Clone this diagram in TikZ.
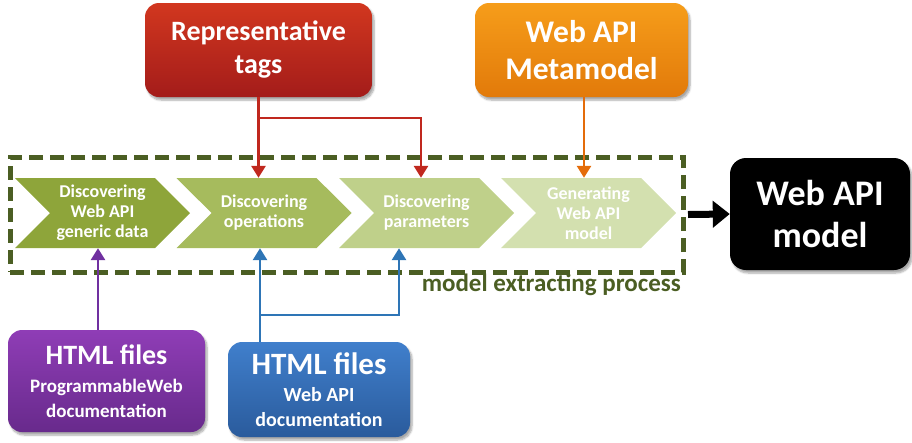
\documentclass[tikz,border=0pt]{standalone}
\usepackage{fontspec}
\setmainfont{Carlito}
\usetikzlibrary{shapes.symbols,arrows.meta,shadows.blur,calc}

\definecolor{olive}{HTML}{4B5E23}
\definecolor{chA}{HTML}{8EA53A}
\definecolor{chB}{HTML}{A6BB5D}
\definecolor{chC}{HTML}{BFD08A}
\definecolor{chD}{HTML}{D3E0AF}
\definecolor{redT}{HTML}{D2371F}
\definecolor{redB}{HTML}{A31C1A}
\definecolor{oraT}{HTML}{F69D1A}
\definecolor{oraB}{HTML}{E27A0A}
\definecolor{purT}{HTML}{8F3DB6}
\definecolor{purB}{HTML}{682A8C}
\definecolor{bluT}{HTML}{407FCC}
\definecolor{bluB}{HTML}{2A5B9C}
\definecolor{redL}{HTML}{C0281E}
\definecolor{oraL}{HTML}{E46C0A}
\definecolor{purL}{HTML}{7030A0}
\definecolor{bluL}{HTML}{2E75B6}

\tikzset{
  srcbox/.style={rounded corners=14pt, text=white, align=center, inner sep=0pt,
    blur shadow={shadow xshift=2pt, shadow yshift=-3pt, shadow blur steps=6, shadow opacity=35}},
  chev/.style={signal, signal from=west, signal to=east, signal pointer angle=90,
    inner sep=0pt, minimum height=70pt, minimum width=175pt, text=white,
    align=center, font=\fontsize{18}{20}\selectfont\bfseries},
  link/.style={line width=2.8pt, -{Triangle[length=12pt,width=14pt]}},
  wire/.style={line width=2.8pt},
}

\begin{document}
\begin{tikzpicture}[x=1pt,y=-1pt]
\useasboundingbox (0,0) rectangle (912,442);

% source boxes
\node[srcbox, top color=redT, bottom color=redB, minimum width=227pt, minimum height=94pt,
  font=\fontsize{28}{33}\selectfont\bfseries] (tags) at (258.5,50) {Representative\\tags};
\node[srcbox, top color=oraT, bottom color=oraB, minimum width=213pt, minimum height=94pt,
  font=\fontsize{31.5}{37}\selectfont\bfseries] (meta) at (581.5,50) {Web API\\Metamodel};
\node[srcbox, top color=purT, bottom color=purB, minimum width=197pt, minimum height=102pt,
  font=\fontsize{19}{25}\selectfont\bfseries] (pw) at (106.5,381)
  {{\fontsize{28}{30}\selectfont HTML files}\\[3pt]ProgrammableWeb\\documentation};
\node[srcbox, top color=bluT, bottom color=bluB, minimum width=182pt, minimum height=95pt,
  font=\fontsize{20}{25}\selectfont\bfseries] (doc) at (319,389.5)
  {{\fontsize{31}{32}\selectfont HTML files}\\[2pt]Web API\\documentation};

% extraction process frame
\node[draw=olive, line width=5pt, dash pattern=on 14pt off 7pt, minimum width=673pt,
  minimum height=115pt, inner sep=0pt] (proc) at (346.5,214.5) {};
\node[text=olive, font=\fontsize{25}{27}\selectfont\bfseries, anchor=north east, inner sep=0pt]
  (proclbl) at (681,274) {model extracting process};

% process steps
\node[chev, fill=chA] (s1) at (102.5,213) {Discovering\\Web API\\generic data};
\node[chev, fill=chB] (s2) at (264,213) {Discovering\\operations};
\node[chev, fill=chC] (s3) at (426.5,213) {Discovering\\parameters};
\node[chev, fill=chD] (s4) at (588.5,213) {Generating\\Web API\\model};

% result
\node[fill=black, rounded corners=16pt, text=white, align=center, minimum width=180pt,
  minimum height=112pt, inner sep=0pt, font=\fontsize{36}{42}\selectfont\bfseries,
  blur shadow={shadow xshift=2pt, shadow yshift=-3pt, shadow blur steps=6, shadow opacity=35}]
  (model) at (820,214) {Web API\\model};

% connectors
\coordinate (rj) at (258.5,118);
\draw[wire, redL] (tags.south) -- (rj);
\draw[link, redL] (rj) -- (rj |- s2.north);
\draw[link, redL] (rj) -| ([xshift=-5.5pt]s3.north);
\draw[link, oraL] ([xshift=2.5pt]meta.south) -- ([xshift=2.5pt]meta.south |- s4.north);
\draw[link, purL] ([xshift=-8.5pt]pw.north) -- ([xshift=-8.5pt]pw.north |- s1.south);
\coordinate (bj) at (260,315);
\draw[wire, bluL] (bj |- doc.north) -- (bj);
\draw[link, bluL] (bj) -- (bj |- s2.south);
\draw[link, bluL] (bj) -| ([xshift=-27.5pt]s3.south);
\draw[line width=7pt, -{Triangle[length=17pt,width=26pt]}] ([xshift=2.5pt]proc.east) -- (model.west);
\end{tikzpicture}
\end{document}
